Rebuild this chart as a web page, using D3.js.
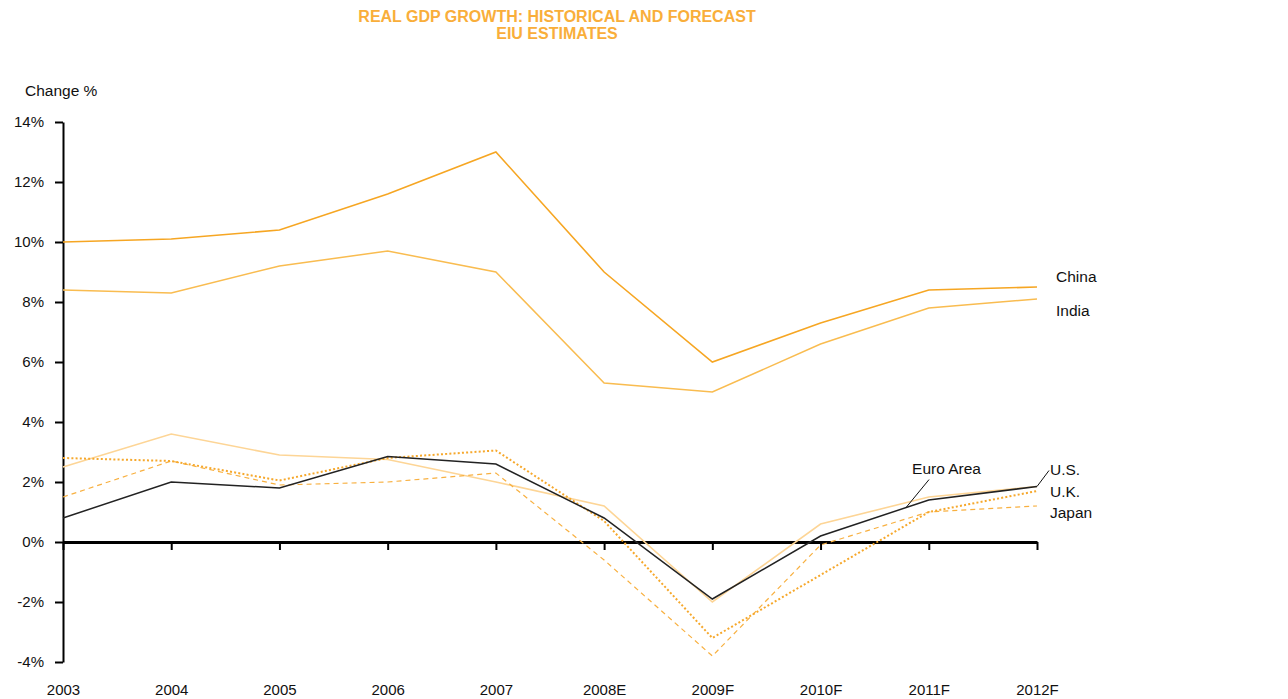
<!DOCTYPE html>
<html>
<head>
<meta charset="utf-8">
<script src="https://cdn.jsdelivr.net/npm/d3@7"></script>
<style>
  html, body { margin: 0; padding: 0; background: #fff; }
  svg { display: block; font-family: "Liberation Sans", Arial, Helvetica, sans-serif; }
</style>
</head>
<body>
<svg id="chart" width="1288" height="699"></svg>
<script>
// ---- data ----
const categories = ["2003", "2004", "2005", "2006", "2007", "2008E", "2009F", "2010F", "2011F", "2012F"];
const china    = [10.0, 10.1, 10.4, 11.6, 13.0, 9.0, 6.0, 7.3, 8.4, 8.5];
const india    = [8.4, 8.3, 9.2, 9.7, 9.0, 5.3, 5.0, 6.6, 7.8, 8.1];
const us       = [2.5, 3.6, 2.9, 2.75, 2.0, 1.2, -2.0, 0.6, 1.5, 1.85];
const euroArea = [0.8, 2.0, 1.8, 2.85, 2.6, 0.8, -1.9, 0.2, 1.4, 1.85];
const uk       = [2.8, 2.7, 2.05, 2.8, 3.05, 0.7, -3.2, -1.1, 1.0, 1.7];
const japan    = [1.5, 2.7, 1.9, 2.0, 2.3, -0.6, -3.8, -0.1, 1.0, 1.2];
const yTicks   = [-4, -2, 0, 2, 4, 6, 8, 10, 12, 14];
const titleLines = ["REAL GDP GROWTH: HISTORICAL AND FORECAST", "EIU ESTIMATES"];
const yAxisTitle = "Change %";

const svg = d3.select("#chart");
const orange = "#F7AB32";

const x = d3.scalePoint().domain(categories).range([63, 1037]);
const y = d3.scaleLinear().domain([-4, 14]).range([662, 122]);

// title
svg.append("g").selectAll("text").data(titleLines).join("text")
  .attr("x", 557).attr("y", (d, i) => 22 + i * 17)
  .attr("text-anchor", "middle")
  .attr("font-size", 16).attr("font-weight", "bold")
  .attr("fill", "#F9AE3A")
  .text(d => d);

svg.append("text").attr("x", 25).attr("y", 96)
  .attr("font-size", 15.5).attr("fill", "#111").text(yAxisTitle);

// y axis
const gy = svg.append("g").attr("transform", "translate(63,0)")
  .call(d3.axisLeft(y).tickValues(yTicks).tickFormat(d => d + "%").tickSize(8).tickSizeOuter(0).tickPadding(11));
gy.selectAll("path, line").attr("stroke", "#000").attr("stroke-width", 2);
gy.selectAll("text").attr("font-size", 15).attr("fill", "#111").attr("font-family", "Liberation Sans, Arial, sans-serif");

// x axis at zero
const gx = svg.append("g").attr("transform", `translate(0,${y(0)})`)
  .call(d3.axisBottom(x).tickSize(8).tickSizeOuter(0).tickPadding(134));
gx.selectAll("path, line").attr("stroke", "#000").attr("stroke-width", 2);
gx.select("path").attr("stroke-width", 3);
gx.selectAll("text").attr("font-size", 15).attr("fill", "#111").attr("font-family", "Liberation Sans, Arial, sans-serif");

// series
const series = [
  { name: "U.S.", values: us, color: "#FDD596", width: 1.6, dash: null },
  { name: "Japan", values: japan, color: "#F8B040", width: 1.2, dash: "5,4" },
  { name: "U.K.", values: uk, color: "#F6A82C", width: 2, dash: "2,2.2" },
  { name: "Euro Area", values: euroArea, color: "#222222", width: 1.5, dash: null },
  { name: "India", values: india, color: "#F9BC50", width: 1.5, dash: null },
  { name: "China", values: china, color: "#F6A623", width: 1.6, dash: null }
];

const line = d3.line().x((d, i) => x(categories[i])).y(d => y(d));

svg.append("g").selectAll("path").data(series).join("path")
  .attr("d", d => line(d.values))
  .attr("fill", "none")
  .attr("stroke", d => d.color)
  .attr("stroke-width", d => d.width)
  .attr("stroke-dasharray", d => d.dash)
  .attr("stroke-linejoin", "miter");

// labels
const lastX = x(categories[categories.length - 1]);
const labels = [
  { text: "China", dx: 19, v: 8.67 },
  { text: "India", dx: 19, v: 7.53 },
  { text: "U.S.", dx: 13, v: 2.23 },
  { text: "U.K.", dx: 13, v: 1.5 },
  { text: "Japan", dx: 13, v: 0.8 }
];
svg.append("g").selectAll("text").data(labels).join("text")
  .attr("x", d => lastX + d.dx).attr("y", d => y(d.v))
  .attr("font-size", 15.5).attr("fill", "#111").text(d => d.text);

// U.S. leader
const usEnd = [lastX, y(us[us.length - 1])];
svg.append("line")
  .attr("x1", usEnd[0]).attr("y1", usEnd[1])
  .attr("x2", usEnd[0] + 12).attr("y2", usEnd[1] - 16)
  .attr("stroke", "#111").attr("stroke-width", 1);

// Euro Area leader
const i0 = 7, t = 0.79;
const eX = x(categories[i0]) + t * (x(categories[i0 + 1]) - x(categories[i0]));
const eY = y(euroArea[i0] + t * (euroArea[i0 + 1] - euroArea[i0]));
svg.append("line")
  .attr("x1", eX).attr("y1", eY)
  .attr("x2", eX + 23).attr("y2", eY - 28)
  .attr("stroke", "#111").attr("stroke-width", 1);
svg.append("text").attr("x", eX + 6).attr("y", eY - 34)
  .attr("font-size", 15.5).attr("fill", "#111").text("Euro Area");
</script>
</body>
</html>
